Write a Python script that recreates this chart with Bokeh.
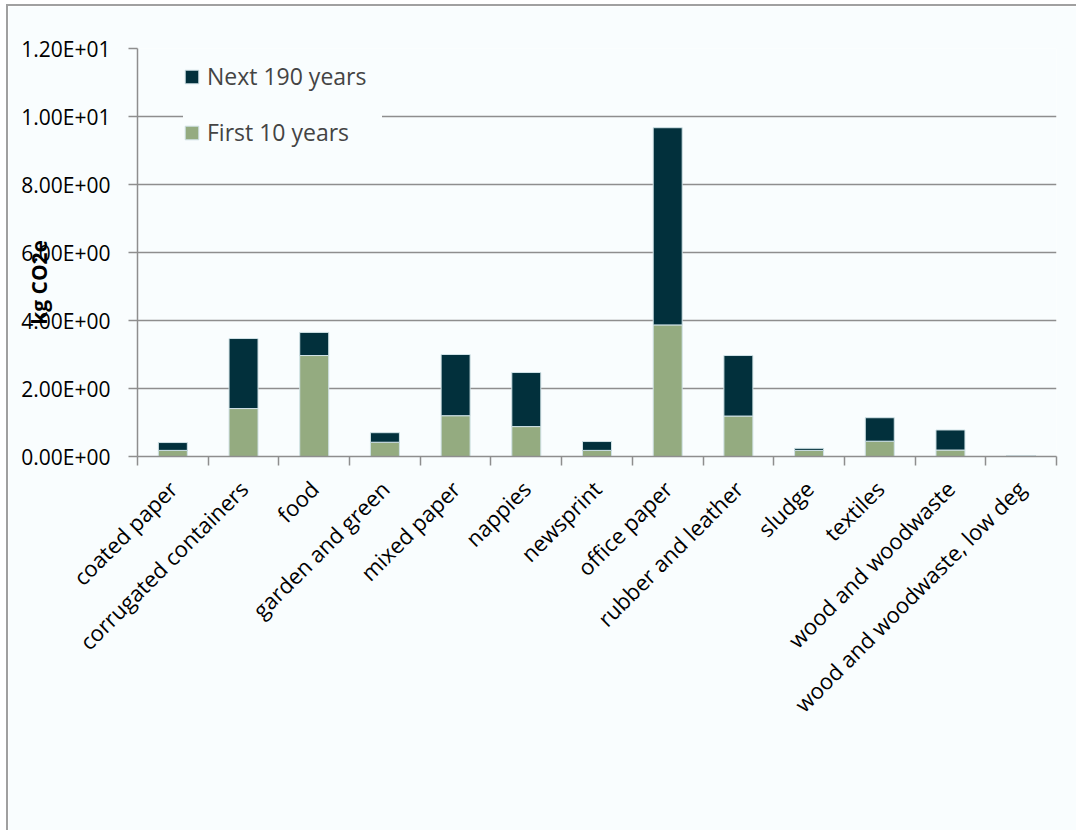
import math
from bokeh.plotting import figure
from bokeh.models import (ColumnDataSource, Range1d, LinearAxis,
                          FixedTicker, Legend, LegendItem, Label)
from bokeh.embed import file_html
from bokeh.resources import INLINE

categories = ["coated paper", "corrugated containers", "food", "garden and green",
              "mixed paper", "nappies", "newsprint", "office paper",
              "rubber and leather", "sludge", "textiles", "wood and woodwaste",
              "wood and woodwaste, low deg"]
first_10_years = [0.18, 1.41, 2.97, 0.42, 1.20, 0.88, 0.18, 3.87, 1.19, 0.18, 0.45, 0.19, 0.02]
next_190_years = [0.23, 2.06, 0.68, 0.28, 1.80, 1.59, 0.26, 5.80, 1.78, 0.06, 0.69, 0.59, 0.01]
y_ticks = [0, 2, 4, 6, 8, 10, 12]
y_tick_labels = ["0.00E+00", "2.00E+00", "4.00E+00", "6.00E+00", "8.00E+00",
                 "1.00E+01", "1.20E+01"]
series_names = ["First 10 years", "Next 190 years"]
y_title = "kg CO2e"

BG = "#f9fdfe"
GREY = "#8e8e8e"
GREEN = "#94ab80"
DARK = "#02303c"
FONT = "Open Sans"

n = len(categories)
slot_centers = [i + 0.5 for i in range(n)]
slot_edges = list(range(n + 1))

source = ColumnDataSource(dict(x=slot_centers, cat=categories,
                               first=first_10_years, next=next_190_years))

p = figure(width=1070, height=826, x_range=Range1d(0, n),
           y_range=Range1d(0, 12), output_backend="svg", toolbar_location=None,
           x_axis_location=None, min_border_left=129, min_border_right=22,
           min_border_top=42, min_border_bottom=376)
p.background_fill_color = BG
p.border_fill_color = BG
p.outline_line_color = None
p.styles = {"border-left": "2px solid #a0a0a0", "border-top": "2px solid #a0a0a0",
            "margin-left": "6px", "margin-top": "4px"}

# gridlines
p.xgrid.grid_line_color = None
p.ygrid.grid_line_color = GREY
p.ygrid.grid_line_width = 1.5
p.ygrid.ticker = FixedTicker(ticks=y_ticks)

# y axis
ya = p.yaxis[0]
ya.ticker = FixedTicker(ticks=y_ticks)
ya.major_label_overrides = dict(zip(y_ticks, y_tick_labels))
ya.major_label_text_font = FONT
ya.major_label_text_font_size = "21px"
ya.major_label_text_color = "black"
ya.major_label_standoff = 18
ya.axis_line_color = GREY
ya.axis_line_width = 1.5
ya.major_tick_line_color = GREY
ya.major_tick_line_width = 1.5
ya.major_tick_out = 9
ya.major_tick_in = 0
ya.minor_tick_line_color = None

# x tick axis (ticks at category boundaries, no labels)
tick_axis = LinearAxis(ticker=FixedTicker(ticks=slot_edges),
                       major_label_text_font_size="0px", major_label_text_color=None,
                       major_label_standoff=0,
                       major_tick_out=9, major_tick_in=0, minor_tick_line_color=None,
                       axis_line_color=GREY, axis_line_width=1.5,
                       major_tick_line_color=GREY, major_tick_line_width=1.5)
p.add_layout(tick_axis, "below")

# category label axis
cat_axis = LinearAxis(ticker=FixedTicker(ticks=slot_centers),
                      major_label_overrides=dict(zip(slot_centers, categories)),
                      major_label_orientation=math.pi / 4, axis_line_color=None,
                      major_tick_line_color=None, minor_tick_line_color=None,
                      major_tick_out=0, major_tick_in=0,
                      major_label_standoff=19, major_label_text_font=FONT,
                      major_label_text_font_size="22px",
                      major_label_text_color="black")
p.add_layout(cat_axis, "below")

renderers = p.vbar_stack(["first", "next"], x="x", width=0.41, source=source,
                         color=[GREEN, DARK], line_color="#d0e2e6", line_width=1)

legend = Legend(items=[LegendItem(label=series_names[1], renderers=[renderers[1]]),
                       LegendItem(label=series_names[0], renderers=[renderers[0]])],
                location=(46, 308), glyph_width=17, glyph_height=17,
                label_text_font=FONT, label_text_font_size="23px",
                label_standoff=7, spacing=24, padding=10, label_height=20,
                label_width=175,
                background_fill_color=BG, background_fill_alpha=1.0,
                border_line_color=None)
p.add_layout(legend)

ylab = Label(x=-1.40, y=5.12, text=y_title, angle=math.pi / 2,
             text_align="center", text_baseline="middle", text_font=FONT,
             text_font_style="bold", text_font_size="21px", text_color="black")
p.add_layout(ylab, "below")

open("out.html", "w").write(file_html(p, INLINE))
